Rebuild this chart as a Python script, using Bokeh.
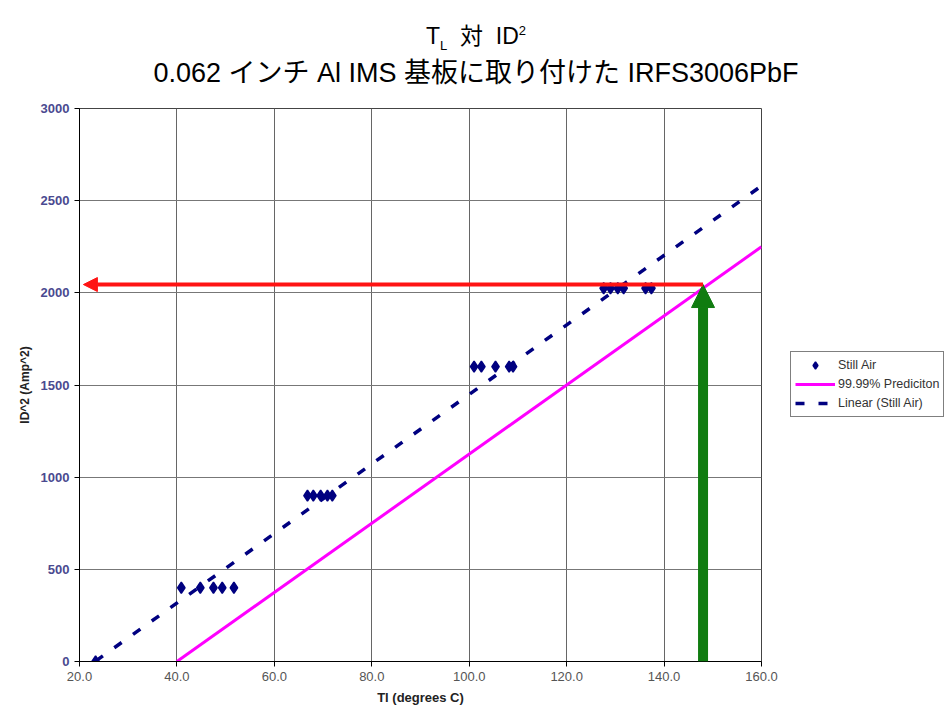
from bokeh.plotting import figure
from bokeh.models import (Range1d, FixedTicker, NumeralTickFormatter, Legend,
                          LegendItem, Arrow, NormalHead, Div)
from bokeh.layouts import column
from bokeh.embed import file_html
from bokeh.resources import INLINE
import numpy as np

# ---- data ----
still_air_temp = [23.3,
                  40.9, 44.8, 47.5, 49.3, 51.7,
                  66.8, 68.0, 69.5, 70.9, 71.9,
                  101.0, 102.5, 105.4, 108.2, 109.0,
                  127.6, 129.0, 130.5, 131.7, 136.2, 137.4]
still_air_id2 = [0,
                 400, 400, 400, 400, 400,
                 900, 900, 900, 900, 900,
                 1600, 1600, 1600, 1600, 1600,
                 2025, 2025, 2025, 2025, 2025, 2025]
prediction_temp = [40.0, 160.0]
prediction_id2 = [0, 2250]
trend_forecast_end = 160.0
target_temp = 148.0
target_id2 = 2045
arrow_left_temp = 20.8
x_ticks = [20, 40, 60, 80, 100, 120, 140, 160]
y_ticks = [0, 500, 1000, 1500, 2000, 2500, 3000]

title_line1_parts = ["T", "L", "対", "ID", "2"]
title_line2 = "0.062 インチ Al IMS 基板に取り付けた IRFS3006PbF"
legend_labels = ["Still Air", "99.99% Prediciton", "Linear (Still Air)"]

FONT = "'Liberation Sans', 'Noto Sans CJK JP', sans-serif"

# linear trendline (least squares over the still-air points)
slope, intercept = np.polyfit(still_air_temp, still_air_id2, 1)
trend_x = [min(still_air_temp), trend_forecast_end]
trend_y = [slope * x + intercept for x in trend_x]

# ---- title as HTML (sub/superscripts) ----
t = title_line1_parts
title_html = (
    f'<div style="width:952px;text-align:center;font-family:{FONT};color:black;">'
    f'<div style="font-size:23px;line-height:28px;margin-top:22px;">'
    f'{t[0]}<sub style="font-size:13px;line-height:0;">{t[1]}</sub>&nbsp;&nbsp;{t[2]}&nbsp;&nbsp;'
    f'{t[3]}<sup style="font-size:13px;line-height:0;">{t[4]}</sup></div>'
    f'<div style="font-size:27px;line-height:30px;margin-top:8px;">{title_line2}</div>'
    f'</div>'
)
title_div = Div(text=title_html, width=952, height=100, margin=0)

p = figure(frame_width=682, frame_height=553, output_backend="svg", toolbar_location=None,
           x_range=Range1d(20, 160), y_range=Range1d(0, 3000), margin=0)
p.min_border_left = 79
p.min_border_right = 191
p.min_border_top = 8
p.min_border_bottom = 56
p.background_fill_color = "white"
p.border_fill_color = "white"
p.outline_line_color = "#444444"

for ax in (p.xaxis[0], p.yaxis[0]):
    ax.axis_line_color = "black"
    ax.major_tick_line_color = "black"
    ax.major_tick_out = 5
    ax.major_tick_in = 0
    ax.minor_tick_line_color = None
    ax.major_label_text_font = FONT
    ax.axis_label_text_font = FONT
    ax.axis_label_text_font_style = "bold"
    ax.axis_label_text_color = "#222222"

p.xaxis.ticker = FixedTicker(ticks=x_ticks)
p.yaxis.ticker = FixedTicker(ticks=y_ticks)
p.xaxis.formatter = NumeralTickFormatter(format="0.0")
p.yaxis.formatter = NumeralTickFormatter(format="0")
p.xaxis.major_label_text_font_size = "13px"
p.xaxis.major_label_text_color = "#555555"
p.yaxis.major_label_text_font_size = "13px"
p.yaxis.major_label_text_color = "#4a4a90"
p.yaxis.major_label_text_font_style = "bold"
p.xaxis.axis_label = "Tl (degrees C)"
p.yaxis.axis_label = "ID^2 (Amp^2)"
p.xaxis.axis_label_text_font_size = "13px"
p.yaxis.axis_label_text_font_size = "12px"
p.xaxis.axis_label_standoff = 6
p.yaxis.axis_label_standoff = 6

p.xgrid.ticker = FixedTicker(ticks=x_ticks)
p.ygrid.ticker = FixedTicker(ticks=y_ticks)
p.xgrid.grid_line_color = "#666666"
p.ygrid.grid_line_color = "#777777"
p.xgrid.grid_line_width = 1
p.ygrid.grid_line_width = 1

# series
r_pred = p.line(prediction_temp, prediction_id2, line_color="#ff00ff", line_width=3)
r_trend = p.line(trend_x, trend_y, line_color="#000080", line_width=3.5, line_dash="9 14")
r_pts = p.scatter(still_air_temp, still_air_id2, marker="diamond", size=11,
                  fill_color="#000080", line_color="#000080", line_width=1.5)

# arrows
p.add_layout(Arrow(end=NormalHead(size=23, fill_color="#107c10", line_color="#107c10"),
                   x_start=target_temp, y_start=0, x_end=target_temp, y_end=target_id2,
                   line_color="#107c10", line_width=10))
p.add_layout(Arrow(end=NormalHead(size=14, fill_color="#ff1414", line_color="#ff1414"),
                   x_start=target_temp, y_start=target_id2, x_end=arrow_left_temp, y_end=target_id2,
                   line_color="#ff1414", line_width=4))

# legend in the right panel
legend = Legend(items=[LegendItem(label=legend_labels[0], renderers=[r_pts]),
                       LegendItem(label=legend_labels[1], renderers=[r_pred]),
                       LegendItem(label=legend_labels[2], renderers=[r_trend])],
                location=(29, 244), orientation="vertical",
                border_line_color="black", border_line_width=1,
                background_fill_color="white", background_fill_alpha=1,
                label_text_font=FONT, label_text_font_size="12.5px",
                label_text_color="#333333", label_height=18, glyph_height=18,
                glyph_width=40, label_standoff=3, spacing=1, padding=4, margin=0)
p.add_layout(legend, "right")

layout = column(title_div, p, spacing=0, margin=0)
open("out.html", "w").write(file_html(layout, INLINE))
